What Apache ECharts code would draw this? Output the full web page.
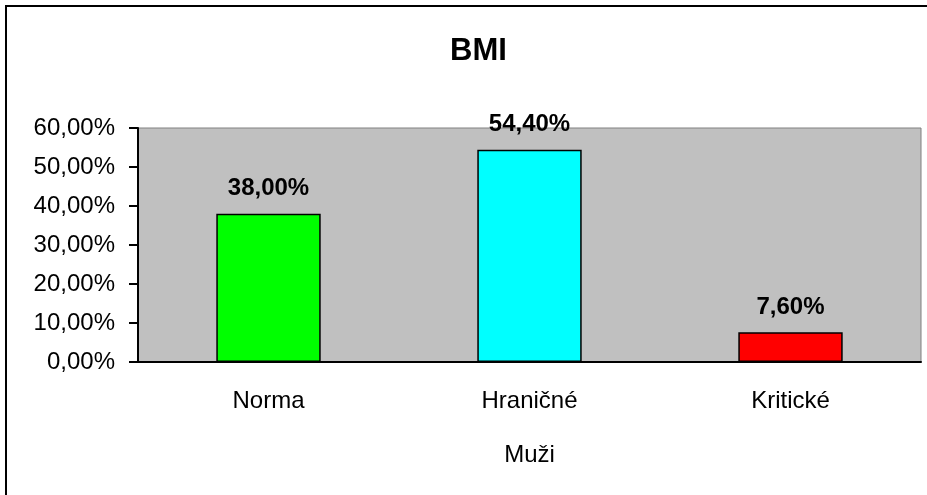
<!DOCTYPE html>
<html>
<head>
<meta charset="utf-8">
<script src="https://cdn.jsdelivr.net/npm/echarts@6/dist/echarts.min.js"></script>
<style>
  html, body { margin: 0; padding: 0; background: #fff; }
  #chart { position: absolute; left: 0; top: 0; width: 927px; height: 495px; }
  #frame {
    position: absolute; left: 5px; top: 5px; width: 1000px; height: 600px;
    border-top: 2px solid #000; border-left: 2px solid #000; pointer-events: none;
  }
</style>
</head>
<body>
<div id="chart"></div>
<div id="frame"></div>
<script>
// data
const categories = ['Norma', 'Hraničné', 'Kritické']
const values = [38.0, 54.4, 7.6]
const barColors = ['#00ff00', '#00ffff', '#ff0000']
const yTicks = { min: 0, max: 60, interval: 10 }

const fontFamily = 'Arial, "Liberation Sans", sans-serif'
const pct = v => v.toFixed(2).replace('.', ',') + '%'

const chart = echarts.init(document.getElementById('chart'))
chart.setOption({
  animation: false,
  title: {
    text: 'BMI',
    left: 445,
    top: 31,
    textStyle: { fontFamily, fontSize: 31, fontWeight: 'bold', color: '#000' }
  },
  grid: {
    left: 138,
    right: 6,
    top: 128,
    bottom: 133,
    show: true,
    backgroundColor: '#c0c0c0',
    borderColor: '#808080',
    borderWidth: 1
  },
  xAxis: {
    type: 'category',
    data: categories,
    name: 'Muži',
    nameLocation: 'middle',
    nameGap: 81,
    nameTextStyle: { fontFamily, fontSize: 24, color: '#000' },
    axisLine: { lineStyle: { color: '#000', width: 2 } },
    axisTick: { show: false },
    axisLabel: { fontFamily, fontSize: 24, color: '#000', margin: 27 }
  },
  yAxis: {
    type: 'value',
    min: yTicks.min,
    max: yTicks.max,
    interval: yTicks.interval,
    axisLine: { show: true, lineStyle: { color: '#000', width: 2 } },
    axisTick: { show: true, length: 9, lineStyle: { color: '#000', width: 2 } },
    splitLine: { show: false },
    axisLabel: {
      fontFamily, fontSize: 24, color: '#000', margin: 23,
      padding: [4, 0, 0, 0],
      formatter: pct
    }
  },
  series: [{
    type: 'bar',
    barWidth: '40%',
    data: values.map((v, i) => ({
      value: v,
      itemStyle: { color: barColors[i] }
    })),
    itemStyle: { borderColor: '#000', borderWidth: 1.5 },
    label: {
      show: true,
      position: 'top',
      distance: 13,
      fontFamily,
      fontSize: 24,
      fontWeight: 'bold',
      color: '#000',
      formatter: p => pct(p.value)
    }
  }]
})
</script>
</body>
</html>
